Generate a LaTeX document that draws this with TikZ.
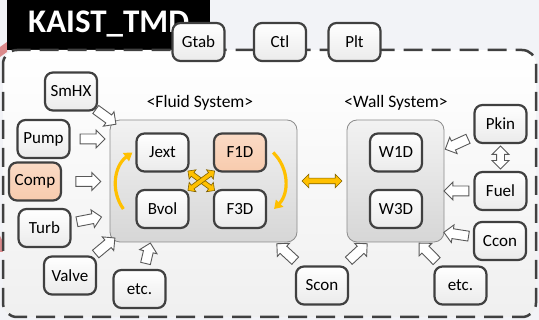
\documentclass[tikz,border=0pt]{standalone}
\usepackage{fontspec}
\setmainfont{Carlito}
\usetikzlibrary{positioning,arrows.meta,calc,shapes.arrows}

\definecolor{edge}{HTML}{404040}
\definecolor{pagebg}{HTML}{F2F3F7}
\definecolor{peach}{HTML}{F8CBAD}
\definecolor{amber}{HTML}{FFC000}
\definecolor{amberdk}{HTML}{7F6000}
\definecolor{rosy}{HTML}{DB8A8C}

\begin{document}
\begin{tikzpicture}[
    x=1pt, y=-1pt,
    unit/.style={draw=edge, line width=2.2pt, rounded corners=8pt,
                 minimum width=52pt, minimum height=38pt, inner sep=0pt,
                 top color=white, bottom color=black!8,
                 font=\fontsize{17}{17}\selectfont},
    hot/.style={top color=peach!70, bottom color=peach},
    grp/.style={draw=black!45, line width=0.8pt, rounded corners=10pt,
                top color=black!5, bottom color=black!16},
    ttl/.style={font=\fontsize{17.5}{17.5}\selectfont},
    push/.style={single arrow, draw=black!65, fill=white, line width=0.9pt,
                 minimum height=25pt, inner xsep=0pt, inner ysep=4.5pt,
                 single arrow head extend=4pt, sloped, allow upside down},
    both/.style={double arrow, draw=black!65, fill=white, line width=0.9pt,
                 minimum height=23pt, inner xsep=0pt, inner ysep=3.5pt,
                 double arrow head extend=4.5pt, sloped},
    swap/.style={double arrow, draw=amberdk, fill=amber, line width=0.6pt,
                 minimum height=33pt, inner xsep=0pt, inner ysep=2pt,
                 double arrow head extend=3.5pt, sloped},
    cyc/.style={amber, line width=3.2pt, -{Triangle[length=8pt, width=10pt]}}
  ]
  \useasboundingbox (0,0) rectangle (539,320);
  \fill[pagebg] (0,0) rectangle (539,320);

  % title bar and frame
  \fill[rosy] (0,47) -- (7,42) -- (7,52) -- (0,57) -- cycle;
  \fill[rosy] (0,236) -- (8,252) -- (0,252) -- cycle;
  \fill[black] (7,0) rectangle (210,50);
  \node[white, anchor=base west, inner sep=0pt,
        font=\fontsize{33}{33}\selectfont\bfseries] (title) at (28,33) {KAIST\_TMD};
  \draw[edge, line width=2.5pt, dash pattern=on 19pt off 9pt, rounded corners=14pt,
        top color=white, bottom color=black!6] (3,50) rectangle (536,317);

  % top row
  \node[unit] (gtab) at (198.5,42) {Gtab};
  \node[unit] (ctl) at (280,42) {Ctl};
  \node[unit] (plt) at (354.5,42) {Plt};

  % --- Fluid System ---
  \node[ttl] (fluidlbl) at (200,103) {<Fluid System>};
  \node[grp, minimum width=187pt, minimum height=122pt] (fluid) at (203.5,181) {};
  \node[unit] (jext) at (162.5,152.5) {Jext};
  \node[unit, hot] (f1d) at (240,152.5) {F1D};
  \node[unit] (bvol) at (162.5,209) {Bvol};
  \node[unit] (f3d) at (240,209) {F3D};
  \path (jext) -- node[swap] {} (f3d);
  \path (bvol) -- node[swap] {} (f1d);
  \draw[cyc] ([xshift=-12pt]bvol.west) to[bend left=45] ([xshift=-3pt]jext.west);
  \draw[cyc] ([xshift=6pt]f1d.east) to[bend left=45] ([xshift=7pt]f3d.east);

  % --- Wall System ---
  \node[ttl] (walllbl) at (396,103) {<Wall System>};
  \node[grp, minimum width=97pt, minimum height=122pt] (wall) at (395.5,181) {};
  \node[unit] (w1d) at (396,152.5) {W1D};
  \node[unit] (w3d) at (396,209) {W3D};
  \path (fluid) -- node[swap, minimum height=40pt, inner ysep=2.5pt,
                        double arrow head extend=4pt] {} (wall);

  % components on the left
  \node[unit] (smhx) at (71,91.5) {SmHX};
  \node[unit] (pump) at (43.5,139) {Pump};
  \node[unit, hot] (comp) at (35,181.5) {Comp};
  \node[unit] (turb) at (44.5,228) {Turb};
  \node[unit] (valve) at (70,275.5) {Valve};
  \node[unit] (etcl) at (139.5,289) {etc.};
  \path (smhx) -- node[push] {} (fluid.north west);
  \path (pump) -- node[push] {} (pump -| fluid.west);
  \path (comp) -- node[push] {} (comp -| fluid.west);
  \path (turb) -- node[push, pos=0.4] {} ([yshift=27pt]fluid.south west);
  \path (valve) -- node[push, pos=0.6] {} (fluid.south west);
  \path (etcl) -- node[push, minimum height=21pt] {} ([xshift=-53pt]fluid.south);

  % components on the right
  \node[unit] (pkin) at (500.5,124) {Pkin};
  \node[unit] (fuel) at (500.5,191) {Fuel};
  \node[unit] (ccon) at (500,241) {Ccon};
  \node[unit] (scon) at (322,285.5) {Scon};
  \node[unit] (etcr) at (460.5,285.5) {etc.};
  \path (pkin) -- node[both] {} (fuel);
  \path (pkin) -- node[push] {} ([yshift=-30pt]wall.north east);
  \path (fuel) -- node[push] {} (fuel -| wall.east);
  \path (ccon) -- node[push] {} ([yshift=10pt]wall.south east);
  \path (scon) -- node[push] {} ([xshift=-22pt]fluid.south east);
  \path (scon) -- node[push] {} ([xshift=22pt]wall.south west);
  \path (etcr) -- node[push] {} ([xshift=-26pt]wall.south east);
\end{tikzpicture}
\end{document}
